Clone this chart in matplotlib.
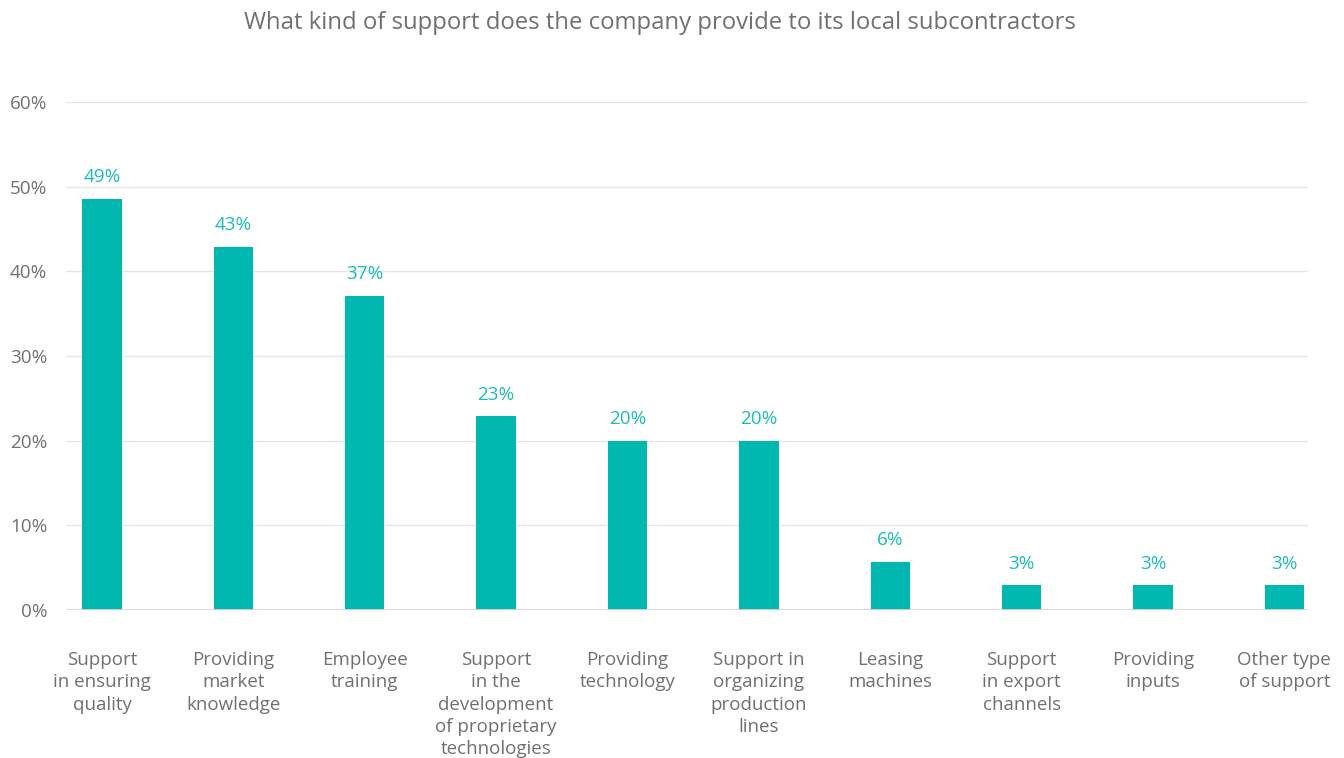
import matplotlib.pyplot as plt

# Survey results (share of companies, %)
categories = [
    "Support\nin ensuring\nquality",
    "Providing\nmarket\nknowledge",
    "Employee\ntraining",
    "Support\nin the\ndevelopment\nof proprietary\ntechnologies",
    "Providing\ntechnology",
    "Support in\norganizing\nproduction\nlines",
    "Leasing\nmachines",
    "Support\nin export\nchannels",
    "Providing\ninputs",
    "Other type\nof support",
]
values = [48.6, 42.9, 37.1, 22.9, 20.0, 20.0, 5.7, 2.9, 2.9, 2.9]
yticks = [0, 10, 20, 30, 40, 50, 60]

bar_color = "#00B8B0"
label_color = "#1BBDB4"
text_gray = "#707070"

plt.rcParams["font.family"] = ["Open Sans", "DejaVu Sans"]

fig = plt.figure(figsize=(13.44, 7.58), dpi=100)
ax = fig.add_axes([0.0491, 0.1953, 0.9241, 0.6701])

x = range(len(categories))
bars = ax.bar(x, values, width=0.30, color=bar_color, zorder=3)

for rect, v in zip(bars, values):
    ax.annotate(f"{v:.0f}%", (rect.get_x() + rect.get_width() / 2, v),
                xytext=(0, 9), textcoords="offset points",
                ha="center", va="bottom", color=label_color, fontsize=13.6)

ax.set_xlim(-0.274, 9.18)
ax.set_ylim(0, 60)
ax.set_yticks(yticks)
ax.set_yticklabels([f"{t}%" for t in yticks])
ax.set_xticks(list(x))
ax.set_xticklabels(categories, linespacing=1.31)

ax.grid(axis="y", color="#E6E6E6", linewidth=1, zorder=0)
ax.axhline(0, color="#D4D4D4", linewidth=2, zorder=4)
for s in ax.spines.values():
    s.set_visible(False)

ax.tick_params(axis="y", length=0, pad=13.5, labelsize=13.6, labelcolor=text_gray)
ax.tick_params(axis="x", length=0, pad=29.5, labelsize=13.5, labelcolor=text_gray)

fig.text(660 / 1344, 1 - 23 / 758,
         "What kind of support does the company provide to its local subcontractors",
         ha="center", va="center", fontsize=17.2, color=text_gray)

fig.savefig("out.png", dpi=100, facecolor="white")
